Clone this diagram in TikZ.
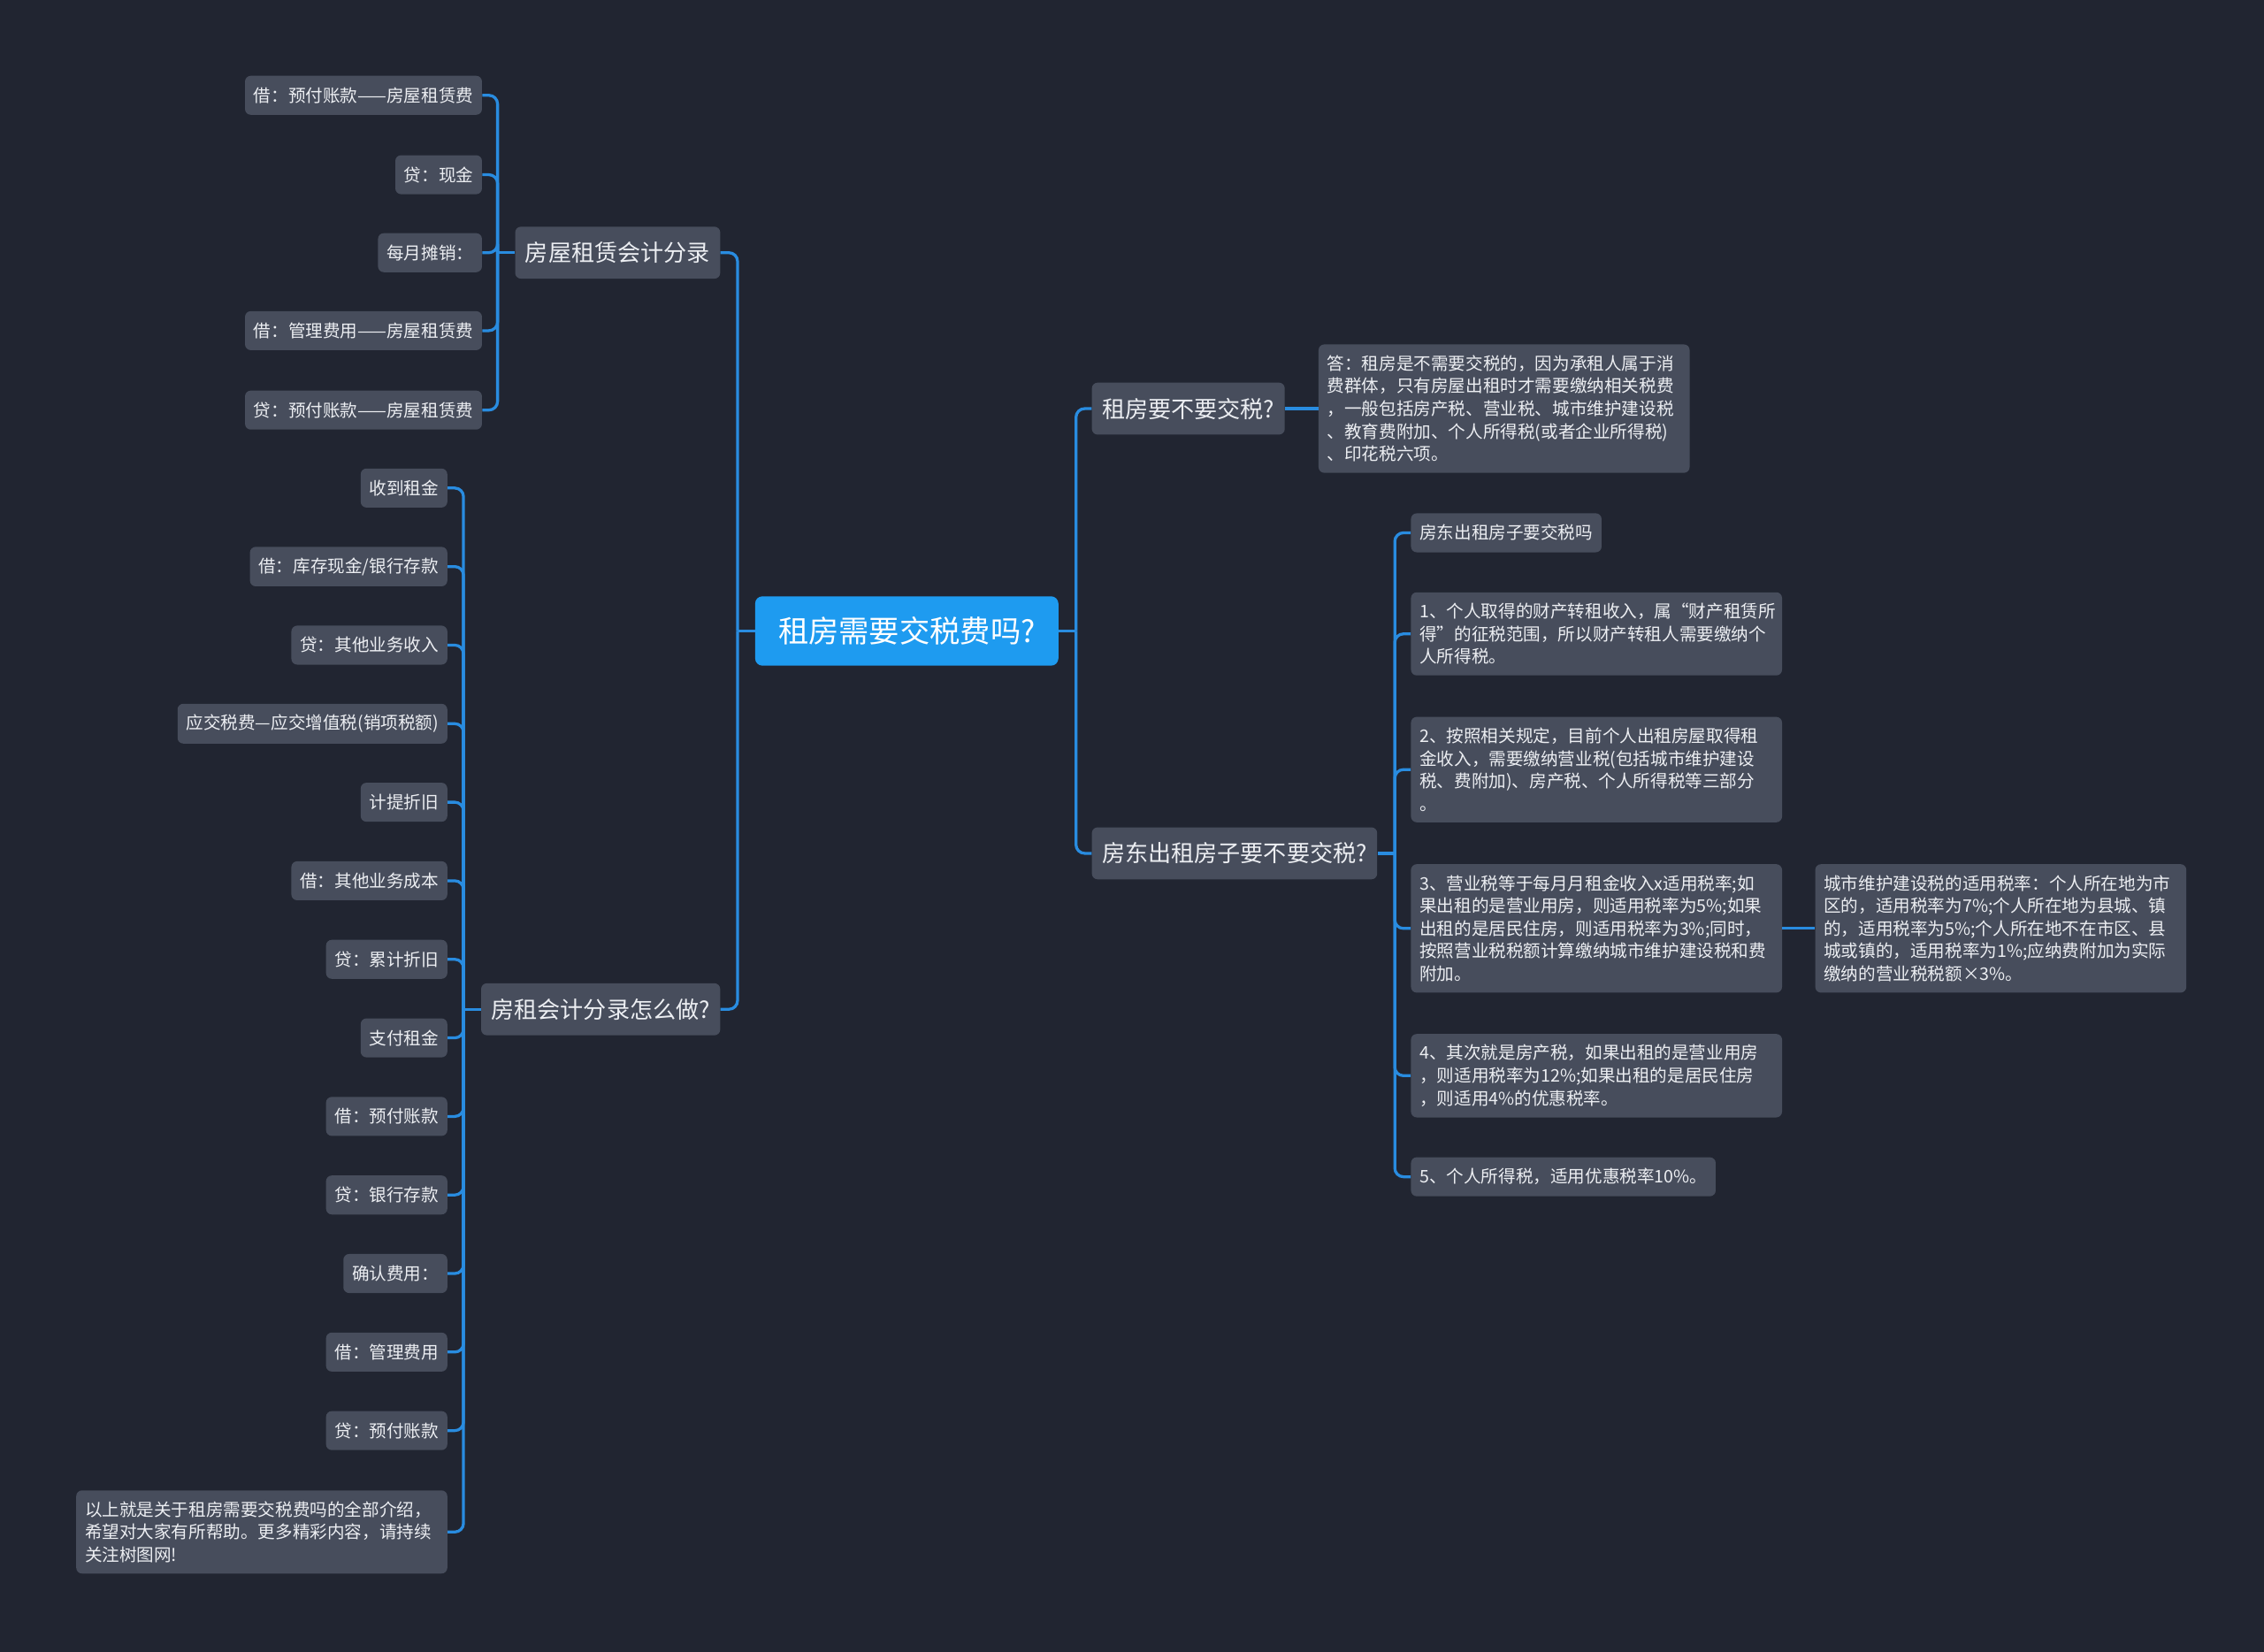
\documentclass[tikz,border=0pt]{standalone}
\usepackage{fontspec}
\setmainfont{Noto Sans CJK SC}
\definecolor{nen}{RGB}{33,37,49}
\definecolor{hop}{RGB}{71,77,92}
\definecolor{goc}{RGB}{30,155,240}
\definecolor{day}{RGB}{41,140,224}
\definecolor{chu}{RGB}{236,238,242}
\tikzset{
  box/.style={fill=hop, text=chu, rounded corners=4pt, font=\fontsize{12}{15.7}\selectfont, inner xsep=6pt, inner ysep=7.5pt, minimum height=27pt},
  longbox/.style={box, text width=245pt, align=left},
  branch/.style={box, font=\fontsize{16}{19}\selectfont, minimum height=36pt, inner xsep=7pt},
  link/.style={draw=day, line width=2pt, rounded corners=6pt},
}

\begin{document}
\begin{tikzpicture}[x=1pt, y=-1pt]
    % Nền
    \fill[nen] (0,0) rectangle (1568,1144);
    \useasboundingbox (0,0) rectangle (1568,1144);
    % Nút gốc
    \node[fill=goc, text=white, rounded corners=5pt, minimum width=210pt, minimum height=48pt, font=\fontsize{21}{24}\selectfont] (root) at (628,437) {租房需要交税费吗?};
    % Nhánh trái
    \node[branch, anchor=east] (b1) at (499,175) {房屋租赁会计分录};
    \node[branch, anchor=east] (b2) at (499,699) {房租会计分录怎么做?};
    % Nhánh phải
    \node[branch, anchor=west] (q1) at (756,283) {租房要不要交税?};
    \node[branch, anchor=west] (q2) at (756,591) {房东出租房子要不要交税?};
    % Các mục của b1
    \node[box, anchor=east] (a1) at (334,66) {借：预付账款——房屋租赁费};
    \node[box, anchor=east] (a2) at (334,121) {贷：现金};
    \node[box, anchor=east] (a3) at (334,175) {每月摊销：};
    \node[box, anchor=east] (a4) at (334,229) {借：管理费用——房屋租赁费};
    \node[box, anchor=east] (a5) at (334,284) {贷：预付账款——房屋租赁费};
    % Các mục của b2
    \node[box, anchor=east] (c1) at (310,338) {收到租金};
    \node[box, anchor=east] (c2) at (310,392.4) {借：库存现金/银行存款};
    \node[box, anchor=east] (c3) at (310,446.8) {贷：其他业务收入};
    \node[box, anchor=east] (c4) at (310,501.2) {应交税费—应交增值税(销项税额)};
    \node[box, anchor=east] (c5) at (310,555.6) {计提折旧};
    \node[box, anchor=east] (c6) at (310,610) {借：其他业务成本};
    \node[box, anchor=east] (c7) at (310,664.4) {贷：累计折旧};
    \node[box, anchor=east] (c8) at (310,718.8) {支付租金};
    \node[box, anchor=east] (c9) at (310,773.2) {借：预付账款};
    \node[box, anchor=east] (c10) at (310,827.6) {贷：银行存款};
    \node[box, anchor=east] (c11) at (310,882) {确认费用：};
    \node[box, anchor=east] (c12) at (310,936.4) {借：管理费用};
    \node[box, anchor=east] (c13) at (310,990.8) {贷：预付账款};
    \node[longbox, anchor=east] (c14) at (310,1061) {以上就是关于租房需要交税费吗的全部介绍，\\希望对大家有所帮助。更多精彩内容，请持续\\关注树图网!};
    % Trả lời của q1
    \node[longbox, anchor=west] (ans) at (913,283) {答：租房是不需要交税的，因为承租人属于消\\费群体，只有房屋出租时才需要缴纳相关税费\\，一般包括房产税、营业税、城市维护建设税\\、教育费附加、个人所得税(或者企业所得税)\\、印花税六项。};
    % Các mục của q2
    \node[box, anchor=west] (r0) at (977,369) {房东出租房子要交税吗};
    \node[longbox, anchor=west] (r1) at (977,439) {1、个人取得的财产转租收入，属“财产租赁所\\得”的征税范围，所以财产转租人需要缴纳个\\人所得税。};
    \node[longbox, anchor=west] (r2) at (977,533) {2、按照相关规定，目前个人出租房屋取得租\\金收入，需要缴纳营业税(包括城市维护建设\\税、费附加)、房产税、个人所得税等三部分\\。};
    \node[longbox, anchor=west] (r3) at (977,643) {3、营业税等于每月月租金收入x适用税率;如\\果出租的是营业用房，则适用税率为5\%;如果\\出租的是居民住房，则适用税率为3\%;同时，\\按照营业税税额计算缴纳城市维护建设税和费\\附加。};
    \node[longbox, anchor=west] (r4) at (977,745) {4、其次就是房产税，如果出租的是营业用房\\，则适用税率为12\%;如果出租的是居民住房\\，则适用4\%的优惠税率。};
    \node[box, anchor=west] (r5) at (977,815) {5、个人所得税，适用优惠税率10\%。};
    \node[longbox, anchor=west] (city) at (1257,643) {城市维护建设税的适用税率：个人所在地为市\\区的，适用税率为7\%;个人所在地为县城、镇\\的，适用税率为5\%;个人所在地不在市区、县\\城或镇的，适用税率为1\%;应纳费附加为实际\\缴纳的营业税税额×3\%。};
    % Đường nối từ gốc
    \draw[link] (root.west) -- ++(-12,0) coordinate (busL);
    \draw[link] (root.east) -- ++(12,0) coordinate (busR);
    \foreach \n in {b1,b2} \draw[link] (busL) |- (\n.east);
    \foreach \n in {q1,q2} \draw[link] (busR) |- (\n.west);
    % Đường nối b1, b2
    \draw[link] (b1.west) -- ++(-12,0) coordinate (busA);
    \foreach \n in {a1,a2,a3,a4,a5} \draw[link] (busA) |- (\n.east);
    \draw[link] (b2.west) -- ++(-12,0) coordinate (busC);
    \foreach \n in {c1,c2,c3,c4,c5,c6,c7,c8,c9,c10,c11,c12,c13,c14} \draw[link] (busC) |- (\n.east);
    % Đường nối q1, q2
    \draw[link] (q1.east) -- (ans.west);
    \draw[link] (q2.east) -- ++(12,0) coordinate (busQ);
    \foreach \n in {r0,r1,r2,r3,r4,r5} \draw[link] (busQ) |- (\n.west);
    \draw[link] (r3.east) -- (city.west);
\end{tikzpicture}
\end{document}
